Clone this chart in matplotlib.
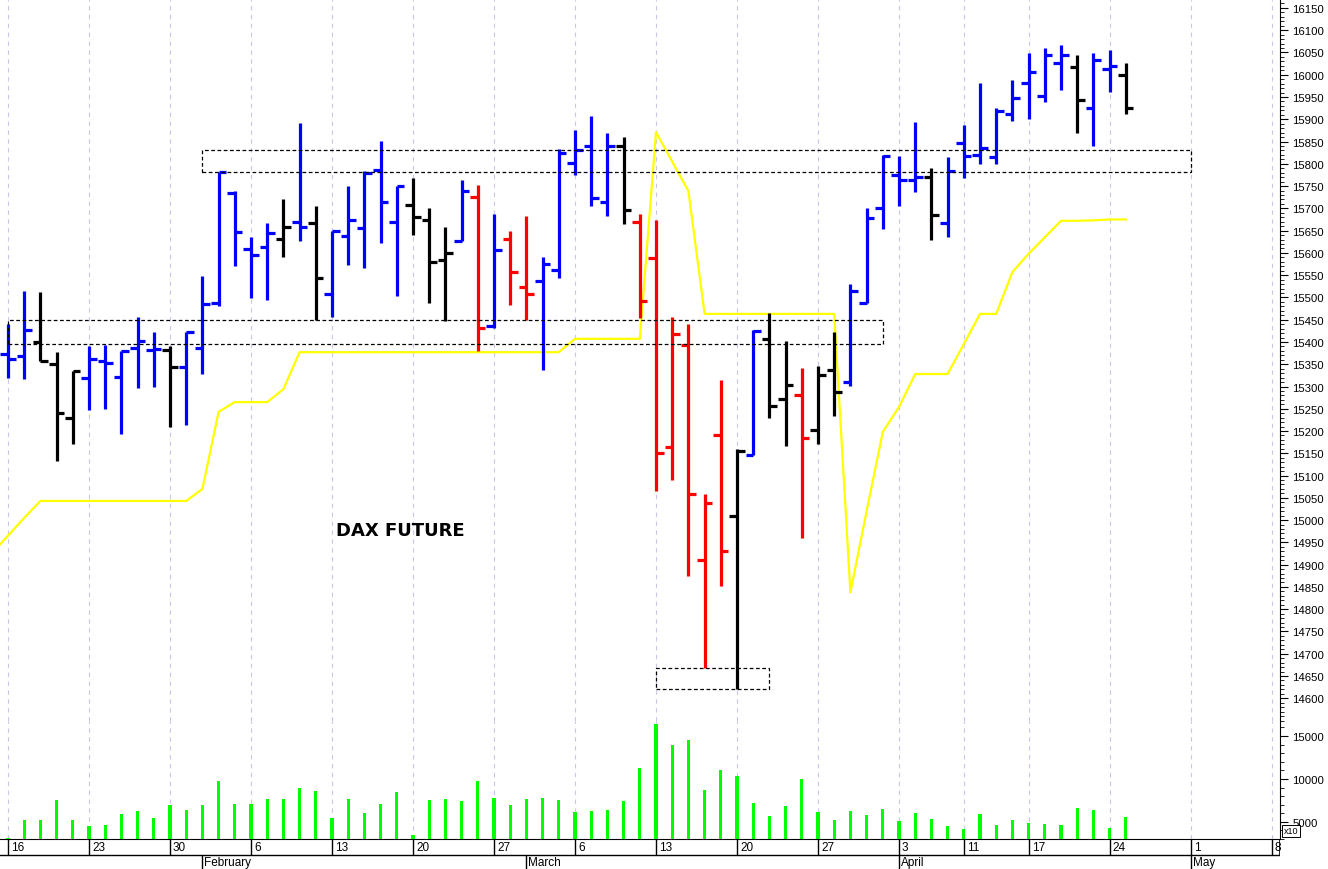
import matplotlib
matplotlib.use('Agg')
import matplotlib.pyplot as plt
from matplotlib.patches import Rectangle
from matplotlib.ticker import MultipleLocator, FixedLocator, NullLocator

# trading-day index: 0 = Jan 16 2023 (index -1 = Jan 13, just off the left edge)
IDX = list(range(-1, 70))

OPEN = [15380, 15373, 15368, 15400, 15350, 15229, 15319, 15357, 15321, 15387,
        15382, 15382, 15343, 15387, 15487, 15735, 15609, 15613, 15631, 15669,
        15667, 15508, 15638, 15656, 15786, 15669, 15708, 15674, 15584, 15627,
        15726, 15436, 15631, 15523, 15537, 15562, 15802, 15840, 15714, 15840,
        15669, 15589, 15164, 15393, 14910, 15191, 15009, 15146, 15407, 15272,
        15281, 15202, 15337, 15310, 15487, 15700, 15775, 15764, 15770, 15667,
        15847, 15820, 15815, 15912, 15982, 15952, 16026, 16017, 15925, 16013,
        16000]
HIGH = [15450, 15440, 15514, 15512, 15377, 15335, 15391, 15393, 15380, 15456,
        15422, 15391, 15423, 15549, 15782, 15739, 15636, 15667, 15721, 15892,
        15706, 15650, 15750, 15784, 15851, 15750, 15768, 15700, 15658, 15764,
        15753, 15687, 15649, 15683, 15591, 15833, 15876, 15907, 15869, 15860,
        15687, 15674, 15457, 15440, 15058, 15315, 15159, 15426, 15466, 15403,
        15342, 15346, 15423, 15530, 15700, 15820, 15818, 15893, 15791, 15815,
        15887, 15982, 15925, 15988, 16049, 16060, 16067, 16044, 16049, 16056,
        16026]
LOW = [15320, 15320, 15317, 15357, 15133, 15171, 15247, 15249, 15193, 15297,
       15299, 15209, 15213, 15328, 15481, 15570, 15499, 15494, 15591, 15627,
       15449, 15456, 15573, 15566, 15622, 15503, 15640, 15487, 15447, 15627,
       15380, 15431, 15483, 15449, 15337, 15544, 15775, 15705, 15683, 15665,
       15454, 15065, 15089, 14874, 14668, 14852, 14620, 15146, 15229, 15166,
       14960, 15170, 15234, 15301, 15487, 15654, 15705, 15737, 15629, 15636,
       15768, 15800, 15800, 15896, 15901, 15939, 15966, 15869, 15840, 15961,
       15912]
CLOSE = [15390, 15362, 15427, 15357, 15240, 15335, 15362, 15353, 15380, 15402,
         15384, 15343, 15423, 15485, 15782, 15647, 15595, 15645, 15658, 15658,
         15544, 15649, 15674, 15779, 15714, 15750, 15681, 15580, 15600, 15739,
         15431, 15607, 15557, 15508, 15575, 15824, 15831, 15723, 15840, 15696,
         15492, 15150, 15418, 15058, 15038, 14930, 15155, 15424, 15256, 15303,
         15184, 15326, 15287, 15514, 15678, 15818, 15764, 15770, 15685, 15784,
         15818, 15836, 15919, 15948, 16006, 16044, 16044, 15943, 16033, 16020,
         15925]
BAR_COLOR = list('bbbkkkbbbbbkbbbbbbkbkbbbbbkkkbrbrrbbbbbkrrrrrrkbkkrkkbbbbbkbbbbbbbbkbbk')

VOLUME = [5000, 3100, 5270, 5250, 7520, 5250, 4530, 4650, 5890, 6280,
          5470, 6940, 6400, 7010, 9730, 7130, 7050, 7640, 7640, 8950,
          8640, 5390, 7640, 6080, 7050, 8490, 3410, 7560, 7640, 7400,
          9770, 7790, 6980, 7640, 7760, 7560, 6120, 6280, 6400, 7400,
          11280, 16400, 13950, 14540, 8720, 11050, 10310, 7250, 5660, 6830,
          9970, 6120, 5230, 6240, 5780, 6550, 5080, 6080, 5350, 4500,
          4220, 5970, 4610, 5200, 4850, 4730, 4610, 6590, 6430, 4340,
          5550]

SIGNAL = [14925, 14965, 15005, 15043, 15043, 15043, 15043, 15043, 15043, 15043,
          15043, 15043, 15043, 15070, 15243, 15265, 15265, 15265, 15294, 15377,
          15377, 15377, 15377, 15377, 15377, 15377, 15377, 15377, 15377, 15377,
          15377, 15377, 15377, 15377, 15377, 15377, 15407, 15407, 15407, 15407,
          15407, 15871, 15805, 15739, 15463, 15463, 15463, 15463, 15463, 15463,
          15463, 15463, 15463, 14838, 15020, 15198, 15254, 15328, 15328, 15328,
          15395, 15463, 15463, 15557, 15598, 15635, 15672, 15672, 15673, 15675,
          15675]

# dotted boxes: (first index, last index, low price, high price)
BOXES = [(12, 73, 15782, 15831), (0, 54, 15395, 15450), (40, 47, 14620, 14667)]

WEEK_IDX = [0, 5, 10, 15, 20, 25, 30, 35, 40, 45, 50, 55, 59, 63, 68, 73, 78]
WEEK_LBL = ['16', '23', '30', '6', '13', '20', '27', '6', '13', '20', '27',
            '3', '11', '17', '24', '1', '8']
MONTH_IDX = [12, 32, 55, 73]
MONTH_LBL = ['February', 'March', 'April', 'May']

COLORS = {'b': '#0000ff', 'k': '#000000', 'r': '#ff0000'}
GRID = '#c8c8e6'
FONT = 'Liberation Sans'
W, H = 1328, 870
PX = 16.2  # pixels per trading day


def rect(x0, y0, x1, y1):
    return [x0 / W, 1 - y1 / H, (x1 - x0) / W, (y1 - y0) / H]


fig = plt.figure(figsize=(W / 100, H / 100), dpi=100)
ax = fig.add_axes(rect(0, 0, 1280, 722))
axv = fig.add_axes(rect(0, 722, 1280, 840), sharex=ax)
axd = fig.add_axes(rect(0, 840, 1280, 870), sharex=ax)

xmin, xmax = -8 / PX, 1272 / PX
ax.set_xlim(xmin, xmax)

# price panel
cols = [COLORS[c] for c in BAR_COLOR]
tick = 7.6 / PX
for a in (ax, axv):
    for w in WEEK_IDX:
        a.axvline(w, color=GRID, lw=0.8, ls=(0, (4, 4)), zorder=0)

ax.vlines(IDX, LOW, HIGH, colors=cols, lw=2.3, capstyle='butt', zorder=3)
ax.hlines(OPEN, [i - tick for i in IDX], IDX, colors=cols, lw=2.3, capstyle='butt', zorder=3)
ax.hlines(CLOSE, IDX, [i + tick for i in IDX], colors=cols, lw=2.3, capstyle='butt', zorder=3)
ax.plot(IDX, SIGNAL, color='#ffff00', lw=1.6, zorder=2)

for x0, x1, p0, p1 in BOXES:
    ax.add_patch(Rectangle((x0, p0), x1 - x0, p1 - p0, fill=False, ec='black',
                           lw=0.9, ls=(0, (3, 2)), zorder=4))

ax.text(24.2, 14978, 'DAX FUTURE', fontsize=13, fontweight='bold', ha='center', va='center')

ax.set_ylim(14549, 16170)
ax.yaxis.tick_right()
ax.yaxis.set_major_locator(FixedLocator(list(range(14600, 16151, 50))))
ax.yaxis.set_minor_locator(MultipleLocator(10))
ax.tick_params(axis='y', which='major', length=6, width=0.8, labelsize=8.2, pad=3)
ax.tick_params(axis='y', which='minor', length=3, width=0.6)
ax.xaxis.set_major_locator(NullLocator())
for s in ('top', 'left', 'bottom'):
    ax.spines[s].set_visible(False)

# volume panel
axv.bar(IDX, VOLUME, width=3.2 / PX, color='#00ff00', zorder=3)
axv.set_ylim(3000, 16750)
axv.yaxis.tick_right()
axv.yaxis.set_major_locator(FixedLocator([5000, 10000, 15000]))
axv.yaxis.set_minor_locator(MultipleLocator(1000))
axv.tick_params(axis='y', which='major', length=6, width=0.8, labelsize=8.2, pad=3)
axv.tick_params(axis='y', which='minor', length=3, width=0.6)
axv.xaxis.set_major_locator(NullLocator())
for s in ('top', 'left'):
    axv.spines[s].set_visible(False)
for a in (ax, axv):
    for lbl in a.get_yticklabels():
        lbl.set_family(FONT)
fig.text(1291 / W, 1 - 832 / H, 'x10', fontsize=6.5, family=FONT, ha='center', va='center',
         bbox=dict(boxstyle='square,pad=0.2', fc='white', ec='black', lw=0.7))

# date rows
axd.set_ylim(0, 30)
axd.axis('off')
axd.axhline(14, color='black', lw=1)
axd.vlines(WEEK_IDX, 14, 30, colors='black', lw=1)
axd.vlines([xmax], 14, 30, colors='black', lw=1.2)
axd.vlines(MONTH_IDX, 0, 14, colors='black', lw=1)
for w, lbl in zip(WEEK_IDX, WEEK_LBL):
    axd.text(w + 3 / PX, 22, lbl, fontsize=8.5, family=FONT, va='center', ha='left')
for m, lbl in zip(MONTH_IDX, MONTH_LBL):
    axd.text(m + 2 / PX, 6.5, lbl, fontsize=8.5, family=FONT, va='center', ha='left')

fig.savefig('out.png', dpi=100)
